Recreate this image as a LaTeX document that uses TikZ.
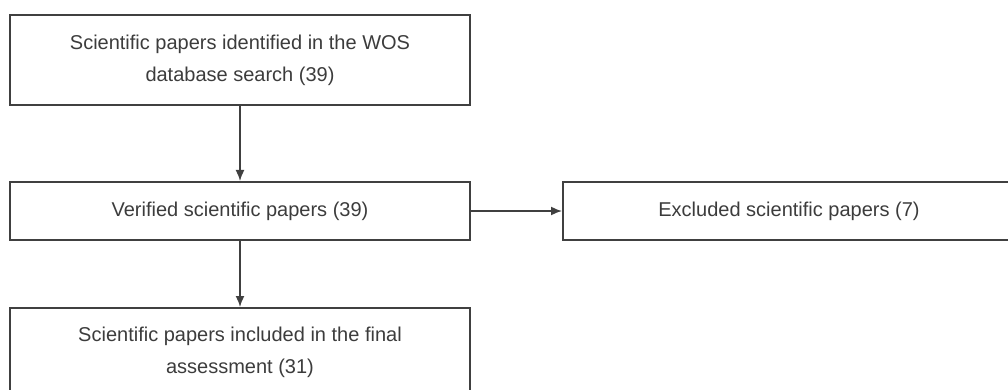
\documentclass[tikz,border=0pt]{standalone}
\usepackage{fontspec}
\setmainfont{Liberation Sans}
\usetikzlibrary{arrows.meta}
\definecolor{txt}{HTML}{3C3C3C}
\definecolor{ln}{HTML}{404040}
\begin{document}
\begin{tikzpicture}[x=1pt,y=-1pt,
  box/.style={draw=ln,line width=2pt,rectangle,inner sep=0pt,text=txt,align=center,
    font=\fontsize{20}{32}\selectfont},
  conn/.style={draw=ln,line width=1.6pt,-{Latex[length=11pt,width=9pt]}}]
\useasboundingbox (0,0) rectangle (1008,390);
\clip (0,0) rectangle (1008,390);
\node[box,minimum width=460pt,minimum height=90pt] (a) at (240,60)
  {Scientific papers identified in the WOS\\database search (39)};
\node[box,minimum width=460pt,minimum height=58pt] (b) at (240,211)
  {Verified scientific papers (39)};
\node[box,minimum width=452pt,minimum height=58pt] (c) at (789,211)
  {Excluded scientific papers (7)};
\node[box,minimum width=460pt,minimum height=88pt] (d) at (240,352)
  {Scientific papers included in the final\\assessment (31)};
\draw[conn] (a) -- (b);
\draw[conn] (b) -- (c);
\draw[conn] (b) -- (d);
\end{tikzpicture}
\end{document}
